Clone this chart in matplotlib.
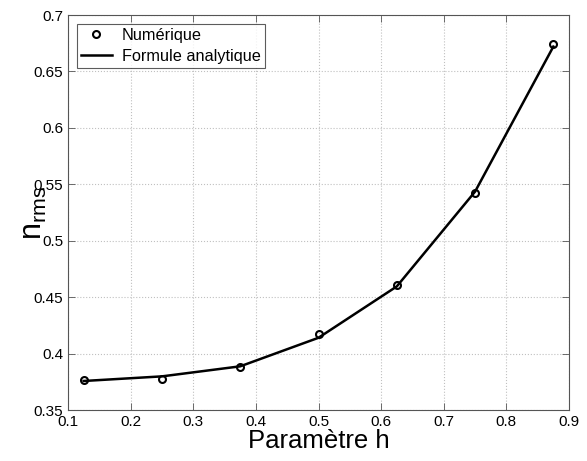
import numpy as np
import matplotlib
matplotlib.use("Agg")
import matplotlib.pyplot as plt

# Données
h = [0.125, 0.25, 0.375, 0.5, 0.625, 0.75, 0.875]
eta_num = [0.3766, 0.3772, 0.3878, 0.4173, 0.4608, 0.5425, 0.6743]
eta_ana = [0.3757, 0.3798, 0.3887, 0.4140, 0.4595, 0.5435, 0.6720]

xticks = [0.1, 0.2, 0.3, 0.4, 0.5, 0.6, 0.7, 0.8, 0.9]
yticks = [0.35, 0.4, 0.45, 0.5, 0.55, 0.6, 0.65, 0.7]

plt.rcParams['font.family'] = ['Liberation Sans', 'DejaVu Sans']
plt.rcParams['mathtext.fontset'] = 'custom'
plt.rcParams['mathtext.rm'] = 'Liberation Sans'

fig = plt.figure(figsize=(5.87, 4.61), dpi=100)
ax = fig.add_axes([68 / 587, 51 / 461, 501 / 587, 395 / 461])

ax.plot(h, eta_num, 'o', mfc='none', mec='black', mew=1.5, ms=5, label='Numérique')
ax.plot(h, eta_ana, '-', color='black', lw=1.8, label='Formule analytique')

ax.set_xlim(0.1, 0.9)
ax.set_ylim(0.35, 0.7)
ax.set_xticks(xticks)
ax.set_yticks(yticks)
ax.set_xticklabels([f'{v:g}' for v in xticks])
ax.set_yticklabels([f'{v:g}' for v in yticks])
ax.tick_params(direction='in', top=True, right=True, labelsize=11, length=5, width=0.6, color='#555555')
for s in ax.spines.values():
    s.set_linewidth(0.8)
    s.set_color('#555555')
ax.grid(True, linestyle=':', color='#c0c0c0', linewidth=0.8)

ax.set_xlabel('Paramètre h', fontsize=18.5, labelpad=0)
ax.set_ylabel(r'$\mathregular{n_{rms}}$', fontsize=22)
# l'étiquette chevauche un peu les graduations, comme dans l'original
ax.yaxis.set_label_coords(-0.038, 0.5)

leg = ax.legend(loc='upper left', fontsize=11.7, frameon=True, fancybox=False,
                edgecolor='#333333', borderpad=0.25, handlelength=1.9,
                handletextpad=0.6, labelspacing=0.35, borderaxespad=0.55)
leg.get_frame().set_linewidth(0.8)

fig.savefig('out.png', dpi=100)
